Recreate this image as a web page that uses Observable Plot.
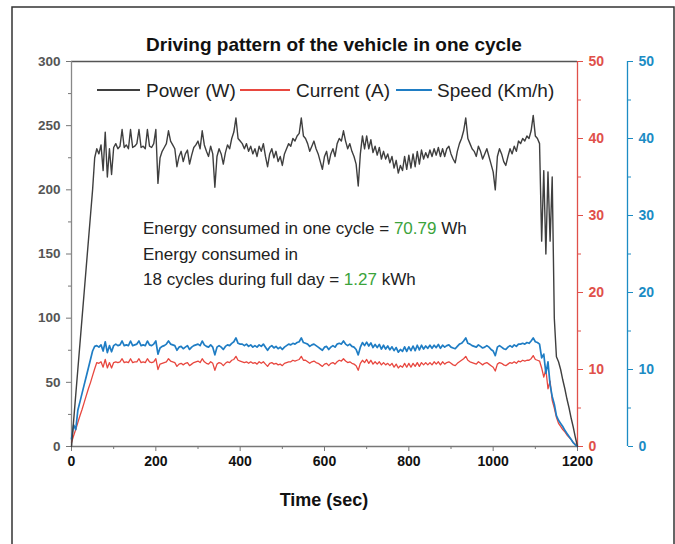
<!DOCTYPE html>
<html><head><meta charset="utf-8">
<script src="https://cdn.jsdelivr.net/npm/d3@7"></script>
<script src="https://cdn.jsdelivr.net/npm/@observablehq/plot@0.6"></script>
<style>
html,body{margin:0;padding:0;background:#fff;}
#chart{position:relative;width:675px;height:544px;overflow:hidden;}
</style></head><body><div id="chart"></div>
<script>
// time in seconds, sampled every 5 s
const time = d3.range(0, 1201, 5);
// Power (W)
const power = [
0,20,40,60,80,100,120,140,160,180,200,225,
232,228,235,215,245,210,232,212,
233,236,232,234,247,233,235,232,247,233,234,236,247,233,234,232,247,234,233,236,
247,205,225,230,233,236,246,238,235,232,218,226,230,222,228,231,220,227,233,235,
238,232,246,235,230,226,234,228,202,226,232,228,220,229,235,232,240,245,256,240,
238,236,232,236,230,234,228,232,226,234,230,236,226,218,228,232,225,230,222,226,
219,228,232,236,234,240,238,242,244,256,242,240,236,230,234,238,232,228,222,216,
226,230,220,228,232,226,236,240,238,246,238,232,236,230,226,220,203,228,242,232,
242,232,239,229,234,227,233,224,230,224,228,221,226,217,223,213,219,215,226,216,
227,217,228,218,230,220,231,224,229,225,231,226,232,227,233,226,232,226,232,234,
228,224,221,230,236,240,246,256,240,236,232,230,226,234,230,224,228,232,226,220,
214,200,226,232,228,222,219,226,232,228,234,230,238,236,240,238,242,240,246,258,
242,240,236,160,215,150,214,160,210,100,70,66,60,52,45,37,30,22,15,7,
0];
// Current (A)
const current = [
0.5,1.4,2.2,3.1,4.0,4.8,5.7,6.6,7.5,8.3,9.2,10.1,
10.9,10.8,11.0,10.3,11.3,10.2,10.9,10.2,
10.9,11.0,10.9,11.0,11.4,10.9,11.0,10.9,11.4,10.9,11.0,11.0,11.4,10.9,11.0,10.9,11.4,11.0,10.9,11.0,
11.4,10.0,10.7,10.8,10.9,11.0,11.4,11.1,11.0,10.9,10.4,10.7,10.8,10.6,10.8,10.9,10.5,10.7,10.9,11.0,
11.1,10.9,11.4,11.0,10.8,10.7,11.0,10.8,9.9,10.7,10.9,10.8,10.5,10.8,11.0,10.9,11.2,11.3,11.7,11.2,
11.1,11.0,10.9,11.0,10.8,11.0,10.8,10.9,10.7,11.0,10.8,11.0,10.7,10.4,10.8,10.9,10.7,10.8,10.6,10.7,
10.5,10.8,10.9,11.0,11.0,11.2,11.1,11.2,11.3,11.7,11.2,11.2,11.0,10.8,11.0,11.1,10.9,10.8,10.6,10.4,
10.7,10.8,10.5,10.8,10.9,10.7,11.0,11.2,11.1,11.4,11.1,10.9,11.0,10.8,10.7,10.5,9.9,10.8,11.2,10.9,
11.3,10.8,11.2,10.7,11.0,10.7,11.0,10.6,10.9,10.6,10.8,10.5,10.8,10.3,10.7,10.2,10.5,10.3,10.8,10.3,
10.8,10.3,10.8,10.4,10.9,10.4,10.9,10.6,10.9,10.6,10.9,10.6,11.0,10.7,11.0,10.6,11.0,10.7,10.9,11.0,
10.8,10.6,10.5,10.8,11.0,11.2,11.4,11.7,11.2,11.0,10.9,10.8,10.7,11.0,10.8,10.6,10.8,10.9,10.7,10.5,
10.3,9.8,10.7,10.9,10.8,10.6,10.5,10.7,10.9,10.8,11.0,10.8,11.1,11.0,11.2,11.1,11.2,11.2,11.4,11.8,
11.3,11.2,11.1,10.2,9.0,10.0,7.5,8.5,6.0,5.0,3.8,3.0,2.6,2.2,1.9,1.5,1.2,0.9,0.5,0.3,
0];
// Speed (Km/h)
const speed = [
1.0,2.8,2.2,4.7,5.8,6.9,8.0,9.1,10.2,11.3,12.4,13.0,
13.1,12.9,13.2,12.4,13.6,12.2,13.1,12.3,
13.1,13.3,13.1,13.2,13.7,13.1,13.2,13.1,13.7,13.1,13.2,13.3,13.7,13.1,13.2,13.1,13.7,13.2,13.1,13.3,
13.7,12.0,12.8,13.0,13.1,13.3,13.7,13.3,13.2,13.1,12.5,12.9,13.0,12.7,12.9,13.1,12.6,12.9,13.1,13.2,
13.3,13.1,13.7,13.2,13.0,12.9,13.2,12.9,11.9,12.9,13.1,12.9,12.6,13.0,13.2,13.1,13.4,13.6,14.1,13.4,
13.3,13.3,13.1,13.3,13.0,13.2,12.9,13.1,12.9,13.2,13.0,13.3,12.9,12.5,12.9,13.1,12.8,13.0,12.7,12.9,
12.6,12.9,13.1,13.3,13.2,13.4,13.3,13.5,13.6,14.1,13.5,13.4,13.3,13.0,13.2,13.3,13.1,12.9,12.7,12.5,
12.9,13.0,12.6,12.9,13.1,12.9,13.3,13.4,13.3,13.7,13.3,13.1,13.3,13.0,12.9,12.6,11.9,12.9,13.5,13.1,
13.55,13.05,13.45,12.85,13.25,12.85,13.25,12.65,13.15,12.65,13.05,12.55,12.95,12.45,12.85,12.25,12.6,12.35,12.95,12.35,
12.95,12.45,13.05,12.45,13.15,12.55,13.15,12.65,13.05,12.75,13.15,12.75,13.15,12.85,13.25,12.75,13.15,12.9,13.1,13.2,
12.9,12.8,12.7,13.0,13.3,13.4,13.7,14.1,13.4,13.3,13.1,13.0,12.9,13.2,13.0,12.8,12.9,13.1,12.9,12.6,
12.4,11.8,12.9,13.1,12.9,12.7,12.6,12.9,13.1,12.9,13.2,13.0,13.3,13.3,13.4,13.3,13.5,13.4,13.7,14.1,
13.6,13.5,13.3,11.5,12.0,9.5,11.0,8.0,6.5,5.5,4.0,3.4,3.0,2.6,2.1,1.7,1.3,0.9,0.5,0.2,
0];

const xTicks = [0, 200, 400, 600, 800, 1000, 1200];
const xMinor = [100, 300, 500, 700, 900, 1100];
const leftTicks = [0, 50, 100, 150, 200, 250, 300];
const leftMinor = [25, 75, 125, 175, 225, 275];
const rightTicks = [0, 10, 20, 30, 40, 50];
const rightMinor = [5, 15, 25, 35, 45];
const seriesNames = ["Power (W)", "Current (A)", "Speed (Km/h)"];
const titleText = "Driving pattern of the vehicle in one cycle";
const xLabel = "Time (sec)";

const leftMax = 300, rightMax = 50, k = leftMax / rightMax;
const GRAY = "#3f3f3f", RED = "#e8473f", BLUE = "#1f7dc4";
const RED_AX = "#e0504a", BLUE_AX = "#1c8cc4";

const rows = time.map((t, i) => ({t, p: power[i], c: current[i], s: speed[i]}));

const plot = Plot.plot({
  width: 675, height: 544,
  marginLeft: 71, marginRight: 98, marginTop: 61, marginBottom: 98,
  x: {domain: [0, 1200], label: null},
  y: {domain: [0, leftMax], label: null},
  style: {fontFamily: "'Liberation Sans', Arial, sans-serif", background: "transparent", overflow: "visible"},
  marks: [
    Plot.ruleY([leftMax], {stroke: "#555", strokeWidth: 1.6}),
    Plot.ruleY([0], {stroke: "#777", strokeWidth: 1.3}),
    Plot.ruleX([0], {stroke: "#888", strokeWidth: 1.3}),
    Plot.ruleX([1200], {stroke: RED_AX, strokeWidth: 1.3}),
    Plot.ruleX([1200], {dx: 50, stroke: BLUE_AX, strokeWidth: 1.3}),
    Plot.axisX({ticks: xTicks, tickSize: 5, tickPadding: 5, tickFormat: d => String(d), fontSize: 14, fontWeight: "bold", color: "#111", label: null, stroke: "#777"}),
    Plot.axisX({ticks: xMinor, tickSize: 3, tickFormat: () => "", label: null, stroke: "#777"}),
    Plot.axisY({ticks: leftTicks, tickSize: 5, tickPadding: 6, fontSize: 13.5, fontWeight: 600, color: "#555", label: null, stroke: "#777"}),
    Plot.axisY({ticks: leftMinor, tickSize: 3, tickFormat: () => "", label: null, stroke: "#777"}),
    Plot.axisY({anchor: "right", ticks: rightTicks.map(v => v * k), tickFormat: d => String(d / k), tickSize: 5, tickPadding: 6, fontSize: 14, fontWeight: "bold", color: RED_AX, label: null}),
    Plot.axisY({anchor: "right", ticks: rightMinor.map(v => v * k), tickFormat: () => "", tickSize: 3, color: RED_AX, label: null}),
    Plot.axisY({anchor: "right", dx: 50, ticks: rightTicks.map(v => v * k), tickFormat: d => String(d / k), tickSize: 5, tickPadding: 6, fontSize: 14, fontWeight: "bold", color: BLUE_AX, label: null}),
    Plot.axisY({anchor: "right", dx: 50, ticks: rightMinor.map(v => v * k), tickFormat: () => "", tickSize: 3, color: BLUE_AX, label: null}),
    Plot.line(rows, {x: "t", y: d => d.c * k, stroke: RED, strokeWidth: 1.3}),
    Plot.line(rows, {x: "t", y: d => d.s * k, stroke: BLUE, strokeWidth: 1.7}),
    Plot.line(rows, {x: "t", y: "p", stroke: GRAY, strokeWidth: 1.4})
  ]
});
document.getElementById("chart").appendChild(plot);

const svg = d3.select(plot);
const FONT = "'Liberation Sans', Arial, sans-serif";
// outer frame
svg.append("rect").attr("x", 12).attr("y", 7).attr("width", 662).attr("height", 600)
  .attr("fill", "none").attr("stroke", "#333").attr("stroke-width", 1.5);
// title
svg.append("text").attr("x", 334).attr("y", 51).attr("text-anchor", "middle")
  .attr("font-family", FONT).attr("font-weight", "bold").attr("font-size", 19).attr("fill", "#111").text(titleText);
// x label
svg.append("text").attr("x", 324).attr("y", 506).attr("text-anchor", "middle")
  .attr("font-family", FONT).attr("font-weight", "bold").attr("font-size", 18).attr("fill", "#111").text(xLabel);
// legend
const legend = [
  {name: seriesNames[0], color: GRAY, x1: 97, x2: 140, tx: 146},
  {name: seriesNames[1], color: RED, x1: 240, x2: 290, tx: 296},
  {name: seriesNames[2], color: BLUE, x1: 396, x2: 432, tx: 437}
];
for (const l of legend) {
  svg.append("line").attr("x1", l.x1).attr("x2", l.x2).attr("y1", 90).attr("y2", 90)
    .attr("stroke", l.color).attr("stroke-width", 2);
  svg.append("text").attr("x", l.tx).attr("y", 96.5).attr("text-anchor", "start").attr("font-family", FONT)
    .attr("font-size", 19).attr("fill", "#222").text(l.name);
}
// annotation
const GREEN = "#3ba33b";
const ann = [
  [["Energy consumed in one cycle = ", "#222"], ["70.79", GREEN], [" Wh", "#222"]],
  [["Energy consumed in", "#222"]],
  [["18 cycles during full day = ", "#222"], ["1.27", GREEN], [" kWh", "#222"]]
];
ann.forEach((line, i) => {
  const t = svg.append("text").attr("x", 143).attr("y", 234 + i * 25.5).attr("text-anchor", "start")
    .attr("font-family", FONT).attr("font-size", 17).attr("xml:space", "preserve");
  for (const [s, c] of line) t.append("tspan").attr("fill", c).text(s);
});
</script></body></html>
